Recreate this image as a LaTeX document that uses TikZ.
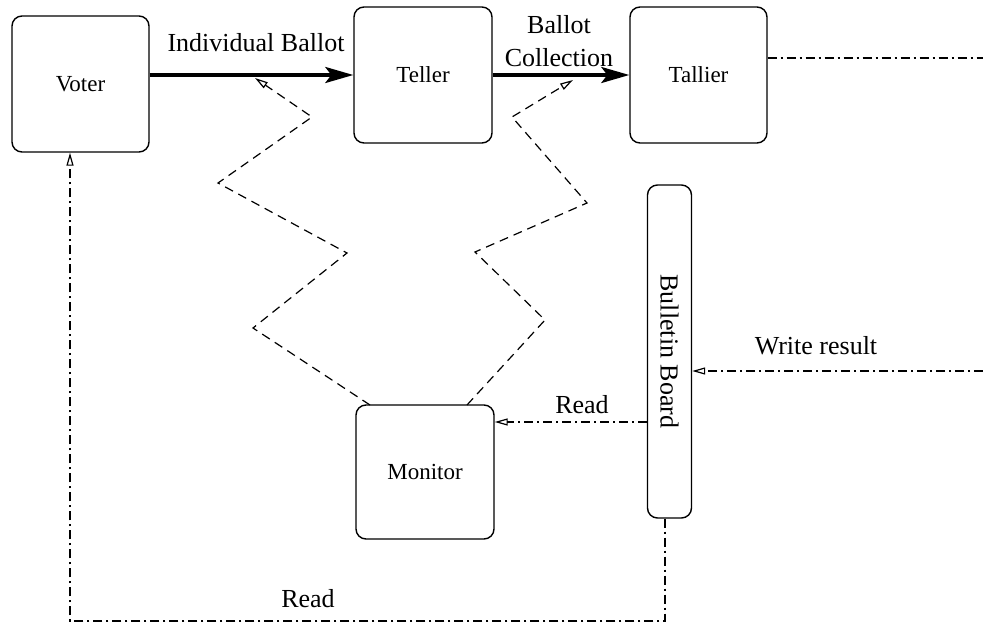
\documentclass[tikz,border=0pt]{standalone}
\usepackage{fontspec}
\setmainfont{Liberation Serif}
\usetikzlibrary{arrows.meta}
\begin{document}
\begin{tikzpicture}[x=1pt,y=-1pt,
  box/.style={draw, line width=1.4pt, rounded corners=10pt, inner sep=0pt,
              font=\fontsize{23}{27}\selectfont},
  lbl/.style={font=\fontsize{26}{33}\selectfont, inner sep=0pt},
  flow/.style={line width=3.4pt, -{Stealth[length=28pt,width=16pt,inset=6pt]}},
  watch/.style={line width=1.2pt, dash pattern=on 9pt off 6pt,
                -{Triangle[open,length=13pt,width=7pt,line width=1.2pt]}},
  info/.style={line width=1.3pt, dash pattern=on 9pt off 4pt on 2pt off 4pt},
  infoarrow/.style={info, -{Triangle[open,length=13pt,width=7pt,line width=1.2pt]}},
]
\useasboundingbox (0,0) rectangle (983,626);

% parties
\node[box, minimum width=137pt, minimum height=136pt] (voter)   at (80.5,84)  {Voter};
\node[box, minimum width=138pt, minimum height=136pt] (teller)  at (423,75)   {Teller};
\node[box, minimum width=137pt, minimum height=136pt] (tallier) at (698.5,75) {Tallier};
\node[box, minimum width=138pt, minimum height=134pt] (monitor) at (425,472)  {Monitor};
\node[box, minimum width=44pt, minimum height=333pt, font=\fontsize{26}{30}\selectfont]
     (board) at (669.5,351.5) {\rotatebox{-90}{Bulletin Board}};

% ballot flow
\draw[flow] (voter.east |- teller.west) -- (teller.west);
\draw[flow] (teller.east) -- (tallier.west);
\node[lbl] (lindiv) at (256,43) {Individual Ballot};
\node[lbl, align=center] (lcoll) at (559,41) {Ballot\\Collection};

% output of the tallier
\coordinate (tout) at (983,58);
\draw[info] (tallier.east |- tout) -- (tout);

% monitor watching both channels
\coordinate (ml) at (370,405);
\coordinate (mr) at (467,405);
\coordinate (w1) at (255,78);
\coordinate (w2) at (573,80);
\draw[watch] (ml) -- (253,328) -- (347,253) -- (218,183) -- (312,117) -- (w1);
\draw[watch] (mr) -- (545,320) -- (475,252) -- (587,203) -- (512,117) -- (w2);

% bulletin board traffic
\coordinate (win) at (983,371);
\draw[infoarrow] (win) -- (board.east |- win);
\node[lbl] (lwrite) at (816,346) {Write result};

\coordinate (rd) at (0,422);
\draw[infoarrow] (board.west |- rd) -- (monitor.east |- rd);
\node[lbl] (lread1) at (582,405) {Read};

\coordinate (c1) at (665,621);
\coordinate (c2) at (70,621);
\draw[infoarrow] (board.south -| c1) -- (c1) -- (c2) -- (c2 |- voter.south);
\node[lbl] (lread2) at (308,599) {Read};
\end{tikzpicture}
\end{document}
